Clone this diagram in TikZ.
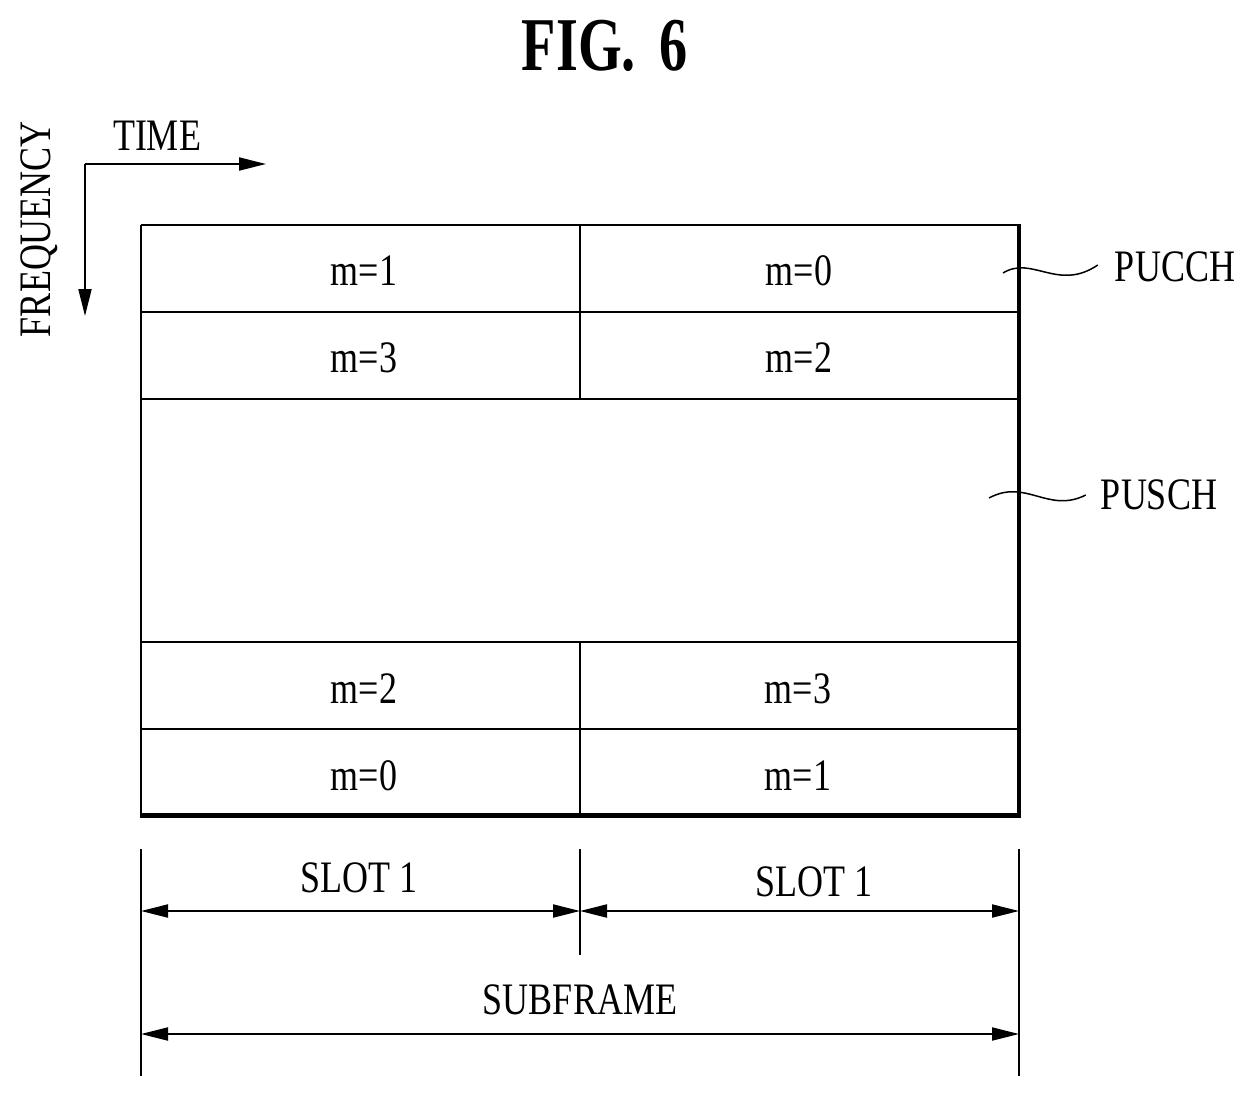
\documentclass[tikz,border=0pt]{standalone}
\usepackage{fontspec}
\usetikzlibrary{arrows.meta}
\newfontfamily\figfont[FakeStretch=0.8]{Liberation Serif}
\newfontfamily\titlefont[FakeStretch=0.74]{Liberation Serif}
\tikzset{
    lbl/.style={font=\figfont\fontsize{45}{45}\selectfont, inner sep=0pt},
    titlelbl/.style={font=\titlefont\bfseries\fontsize{76}{76}\selectfont, inner sep=0pt},
    thinline/.style={line width=2pt},
    thickline/.style={line width=4.5pt},
    dimline/.style={line width=2pt, {Triangle[length=27pt,width=13pt]}-{Triangle[length=27pt,width=13pt]}},
    axisline/.style={line width=2pt, -{Triangle[length=27pt,width=13pt]}},
    wave/.style={line width=1.5pt}
}

\begin{document}
\begin{tikzpicture}[x=1pt,y=-1pt]
    \useasboundingbox (0,0) rectangle (1255,1096);

    \node[titlelbl] (fig) at (605,46) {FIG.\hspace{10pt} 6};

    % Draw axes
    \coordinate (corner) at (85,164);
    \coordinate (timeend) at (266,164);
    \coordinate (freqend) at (85,316);
    \draw[axisline] (corner) -- (timeend);
    \draw[axisline] (corner) -- (freqend);
    \node[lbl] (time) at (157,136) {TIME};
    \node[lbl, rotate=90] (freq) at (39,229) {FREQUENCY};

    % Frame and rows
    \draw[thinline] (141,225) -- (1018,225);
    \draw[thinline] (141,312) -- (1018,312);
    \draw[thinline] (141,399) -- (1018,399);
    \draw[thinline] (141,642) -- (1018,642);
    \draw[thinline] (141,729) -- (1018,729);
    \draw[thinline] (141,225) -- (141,815);
    \draw[thinline] (580,225) -- (580,399);
    \draw[thinline] (580,642) -- (580,815);
    \draw[thickline] (140,815.5) -- (1021,815.5);
    \draw[thickline] (1019,224) -- (1019,817);

    % Resource block labels
    \node[lbl] (a1) at (364,271) {m=1};
    \node[lbl] (a0) at (799,271) {m=0};
    \node[lbl] (b3) at (364,358) {m=3};
    \node[lbl] (b2) at (799,358) {m=2};
    \node[lbl] (c2) at (364,689) {m=2};
    \node[lbl] (c3) at (798,689) {m=3};
    \node[lbl] (d0) at (364,776) {m=0};
    \node[lbl] (d1) at (798,776) {m=1};

    % Channel labels with wavy leaders
    \node[lbl] (pucch) at (1175,267) {PUCCH};
    \node[lbl] (pusch) at (1159,495) {PUSCH};
    \coordinate (pucchend) at (1003,273);
    \coordinate (puschend) at (989,498);
    \draw[wave] (pucchend) .. controls (1032,255) and (1058,292) .. ([xshift=-17pt,yshift=2pt]pucch.west);
    \draw[wave] (puschend) .. controls (1026,478) and (1048,514) .. ([xshift=-15pt]pusch.west);

    % Dimension ticks
    \coordinate (tickl) at (141,849);
    \coordinate (tickle) at (141,1076);
    \coordinate (tickm) at (580,849);
    \coordinate (tickme) at (580,955);
    \coordinate (tickr) at (1019,849);
    \coordinate (tickre) at (1019,1076);
    \draw[thinline] (tickl) -- (tickle);
    \draw[thinline] (tickm) -- (tickme);
    \draw[thinline] (tickr) -- (tickre);

    % Dimension arrows
    \coordinate (slotl) at (141,911);
    \coordinate (slotm) at (580,911);
    \coordinate (slotr) at (1019,911);
    \coordinate (subl) at (141,1034);
    \coordinate (subr) at (1019,1034);
    \draw[dimline] (slotl) -- (slotm);
    \draw[dimline] (slotm) -- (slotr);
    \draw[dimline] (subl) -- (subr);
    \node[lbl] (slota) at (359,878) {SLOT 1};
    \node[lbl] (slotb) at (814,882) {SLOT 1};
    \node[lbl] (sub) at (580,1000) {SUBFRAME};

\end{tikzpicture}
\end{document}
